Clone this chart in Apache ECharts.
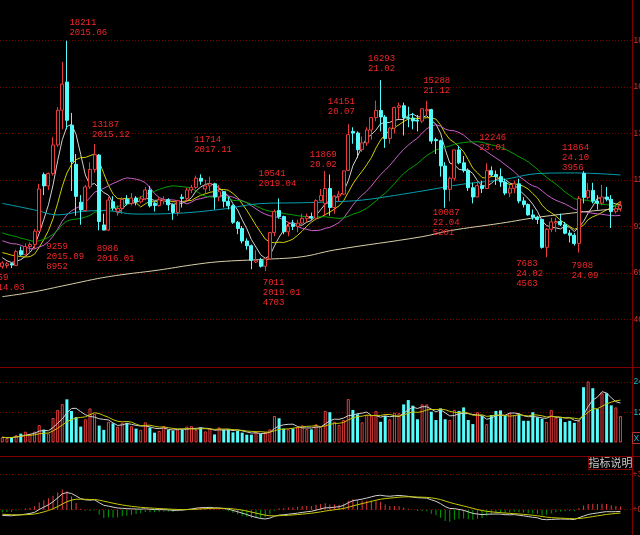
<!DOCTYPE html>
<html><head><meta charset="utf-8">
<script src="https://cdn.jsdelivr.net/npm/echarts@6/dist/echarts.min.js"></script>
<style>html,body{margin:0;padding:0;background:#000;overflow:hidden}#c{width:640px;height:535px}</style>
</head><body><div id="c"></div>
<script>
// ---------- categories ----------
const months = [];
(function(){let y=2014,m=4;while(months.length<137){months.push(y+'.'+String(m).padStart(2,'0'));m++;if(m>12){m=1;y++;}}})();

// ---------- monthly OHLC (2014.04 .. 2025.06) ----------
const open  = [7220,7280,7370,7280,8000,7800,8200,8300,8950,11700,11150,11750,13140,14830,16200,14100,12200,10360,9950,11100,11950,12650,9250,9000,10380,9900,10050,10490,10300,10560,10370,10520,10950,10300,10200,10420,10480,10230,9860,10600,10540,10950,11080,11520,11000,11150,11250,10610,10870,10400,10180,9380,9080,8470,8240,7450,7530,7240,7600,8880,9950,9660,8920,9300,9180,9340,9570,9660,9580,10430,10300,11020,10100,10650,10750,11900,13800,13720,12910,13240,13870,14470,14820,14500,13450,13960,14960,15050,14470,14440,14350,14300,14800,14860,13400,13350,12120,10980,11520,12900,12270,11900,11060,10610,11160,11020,11890,11700,11600,11340,10800,11030,11250,10420,10240,9740,9630,9520,8160,9040,9350,9420,9260,8850,8750,8350,11750,10590,10930,10410,10310,10610,10500,9900,10040];
const high  = [7480,7450,7420,8050,8200,8350,8400,9050,11250,11800,11800,13520,14980,17170,18211,14700,12700,10700,11200,12300,13187,12700,9800,10600,10650,10200,10600,10700,10800,10650,10650,11100,11150,10400,10600,10650,10550,10300,10450,10750,11050,11200,11650,11714,11450,11600,11300,11200,10900,10600,10250,9450,9200,8600,8300,8020,7650,7650,8900,10000,10541,9700,9400,9500,9500,9800,9800,9850,10500,11000,11869,11700,10700,10900,11900,14151,14000,13800,13550,14000,14500,15300,16293,14600,14000,15000,15200,15200,15000,14700,14600,14900,15288,14900,13500,13400,12300,11600,12900,13100,12600,12000,11300,11400,11400,12246,12100,11900,12000,11500,11200,11400,11500,10600,10300,10000,9700,9550,9100,9600,9600,9800,9400,9000,8850,10650,11864,11300,11300,10700,11200,11100,10700,10200,10400];
const low   = [7120,7150,7150,7250,7750,7750,7950,8100,8900,10700,10950,11650,13050,13900,13900,10900,9700,9259,9900,11000,11800,8986,8990,8950,9950,9700,9800,10200,10200,10200,10300,10450,10100,9900,10150,10250,9950,9500,9700,10100,10400,10800,11000,11200,10800,10900,10000,10400,10100,10000,9300,8800,8350,8050,7100,7400,7180,7011,7550,8700,9550,8800,8700,9000,8900,9300,9400,9500,9550,10400,9700,9700,9800,10400,10700,11900,13200,12500,12800,13100,13400,14300,13800,13000,13200,13700,14400,13600,14000,13900,13800,14200,14600,13200,12700,11600,10087,10400,11400,12200,11800,10900,10300,10600,10800,11000,11600,11200,11100,10700,10600,10800,10300,10100,9700,9500,9300,8100,7683,8900,8900,9200,8800,8400,8250,7908,10300,10500,10300,10000,10200,10400,9100,9800,9900];
const close = [7400,7360,7300,7950,7800,8200,8300,8950,11000,11150,11750,13140,14830,16100,14340,12320,10640,9980,11100,11950,12665,9420,9000,10460,10070,10050,10490,10300,10560,10370,10520,10950,10180,10200,10470,10480,10230,9860,10430,10540,10950,11080,11520,11380,11150,11250,10610,10870,10400,10180,9380,9080,8470,8240,7530,7530,7240,7600,8880,9900,9660,8920,9180,9180,9340,9570,9660,9580,10430,10680,11020,10100,10650,10750,11880,13640,13720,12910,13240,13870,14470,14820,14500,13450,13960,14960,15050,14470,14440,14310,14300,14900,14860,13330,13350,12120,10980,11520,12900,12270,11900,11060,10610,11160,11020,11890,11680,11600,11340,10800,11030,11250,10420,10240,9740,9630,9520,8160,9040,9400,9420,9260,8850,8750,8350,10530,10590,10930,10410,10310,10610,10500,9900,10040,10200];
// closes before the window (2011.11 .. 2014.03), for moving-average warm-up
const priorCloses = [9730,8919,9368,10250,9677,10329,10295,9877,9300,8685,8874,8612,8184,9116,9940,9838,9286,8980,9627,8114,7900,8000,8250,8200,8400,8122,7705,7690,7384];
// monthly volume (display units)
const volume = [2.1,1.7,2.1,2.9,3.5,4.3,3.4,4.3,6.9,5.1,3.6,9.7,12.9,15.2,17.1,12.5,10,6.3,9.2,13.5,11.3,6.7,5,8.2,7.6,6.3,7.8,7.8,6.5,5.5,5,8,5.9,3.9,4.6,6.5,5,4.7,5,5.2,6.3,6.5,5,6,4.4,5.6,3.2,6,5.2,5.2,4,4.7,3.9,3.1,3.1,4.3,3.4,4.2,5.2,10.5,9.6,5.5,5.2,5.5,6,6.8,5.3,5.2,7.2,6.3,12.5,12,8.2,6.9,8.9,17.2,12.9,11.2,8,10.9,10.6,12.5,8.2,10.5,9.2,11.8,11.6,15.1,16.8,14.6,9.2,15.1,15.1,12.2,8.9,13.5,9.2,8.9,12.9,12.5,13.9,8.9,7.3,12,10.6,7.3,10.9,12.5,12.7,10.6,11.6,10.9,11.3,8.6,8.6,12,10,9.3,8.1,12.9,10,9.6,8.1,8.6,7.8,8.6,21.9,24.4,21.5,13.3,19.5,19.5,14.7,13.9,10.5];
// long moving averages (sparse points)
const ma60Months  = ['2014.04','2014.11','2015.04','2015.09','2016.02','2016.09','2017.06','2018.03','2019.01','2019.09','2020.04','2020.10','2021.04','2021.11','2022.08','2023.04','2024.01','2024.08','2025.06'];
const ma60Values  = [10300,9980,9740,9900,9950,9780,9820,10000,10300,10330,10380,10460,10650,10900,11240,11436,11760,11780,11680];
const ma250Months = ['2014.04','2014.11','2015.06','2016.03','2017.02','2017.09','2018.03','2019.01','2019.09','2020.04','2021.11','2022.05','2023.04','2024.01','2025.02','2025.06'];
const ma250Values = [5761,6004,6330,6734,7060,7303,7463,7580,7706,8032,8679,8971,9331,9652,9977,10026];
// price annotations
const annoMonths = ['2015.06','2015.12','2017.11','2019.04','2019.01','2020.02','2020.07','2021.02','2021.12','2023.01','2024.10','2022.04','2024.02','2024.09','2015.09','2016.01','2014.04'];
const annoValues = [18211,13187,11714,10541,7011,11869,14151,16293,15288,12246,11864,10087,7683,7908,9259,8986,6959];
const annoTexts  = ['18211\n2015.06','13187\n2015.12','11714\n2017.11','10541\n2019.04','7011\n2019.01\n4703','11869\n20.02','14151\n20.07','16293\n21.02','15288\n21.12','12246\n23.01','11864\n24.10\n3956','10087\n22.04\n5201','7683\n24.02\n4563','7908\n24.09','9259\n2015.09\n8952','8986\n2016.01','6959\n2014.03'];
// axis tick labels
const priceTickLabels = ['4662','6923','9210','11446','13707','16010','18230'];
const volTickLabels   = ['0','12','24'];
const macdTickLabels  = ['','+0','+3115'];

// ---------- derived indicators ----------
const allC = priorCloses.concat(close);
const P = priorCloses.length;
function ma(n){return close.map((_,i)=>{const j=i+P;let s=0;for(let k=j-n+1;k<=j;k++)s+=allC[k];return +(s/n).toFixed(1);});}
function maPartial(arr,n){return arr.map((_,i)=>{let s=0,c=0;for(let k=Math.max(0,i-n+1);k<=i;k++){s+=arr[k];c++;}return +(s/c).toFixed(2);});}
const ma5=ma(5),ma10=ma(10),ma20=ma(20),ma30=ma(30);
let e12=allC[0],e26=allC[0],dea=0;const dif=[],deaArr=[],hist=[];
allC.forEach((c,j)=>{e12=e12+(c-e12)*2/13;e26=e26+(c-e26)*2/27;const d=e12-e26;dea=dea+(d-dea)*0.2;if(j>=P){dif.push(+d.toFixed(1));deaArr.push(+dea.toFixed(1));hist.push(+(2*(d-dea)).toFixed(1));}});
const vma5=maPartial(volume,5),vma10=maPartial(volume,10);

// ---------- chart ----------
const RED='#e83c3c', CYAN='#54fcfc', GRID='#7a0000', TXT='#f02828';
const FONT='Liberation Mono', AXF='Liberation Sans';
const pMin=4662, pMax=18230, pInt=(pMax-pMin)/6;
const annoOffsets=[[3,-23],[-2,-24],[-6,-39],[-20,-29],[-2,7],[-15,-21],[-20,-27],[-12,-26],[-3,-25],[-7,-30],[-21,-28],[-12,0],[-30,2],[-7,9],[-34,17],[-2,14],[-15,1]];

const chart = echarts.init(document.getElementById('c'),null,{renderer:'canvas'});
const lineS=(name,data,color,xi,yi)=>({name,type:'line',data,xAxisIndex:xi,yAxisIndex:yi,showSymbol:false,symbol:'none',smooth:false,lineStyle:{color,width:1},itemStyle:{color},silent:true,z:3});
const sparse=(ms,vs)=>ms.map((m,i)=>[m,vs[i]]);
const gridBase={left:0,width:632,outerBoundsMode:'none',containLabel:false};

chart.setOption({
  backgroundColor:'#000',
  animation:false,
  grid:[
    Object.assign({top:40.3,height:279},gridBase),
    Object.assign({top:381.9,height:60.6},gridBase),
    Object.assign({top:474.3,height:70.8},gridBase)
  ],
  xAxis:[0,1,2].map(g=>({type:'category',gridIndex:g,data:months,boundaryGap:true,show:false})),
  yAxis:[
    {type:'value',gridIndex:0,position:'right',min:pMin,max:pMax,interval:pInt,
     axisLine:{show:false},axisTick:{show:false},
     axisLabel:{margin:1.5,color:'#d03030',fontFamily:AXF,fontSize:8.5,formatter:v=>priceTickLabels[Math.round((v-pMin)/pInt)]},
     splitLine:{show:true,lineStyle:{color:GRID,type:[1,2]}}},
    {type:'value',gridIndex:1,position:'right',min:0,max:24,interval:12,
     axisLine:{show:false},axisTick:{show:false},
     axisLabel:{margin:1.5,color:'#20b8c8',fontFamily:AXF,fontSize:8.5,showMinLabel:false,formatter:v=>volTickLabels[Math.round(v/12)]},
     splitLine:{show:true,showMinLine:false,lineStyle:{color:GRID,type:[1,2]}}},
    {type:'value',gridIndex:2,position:'right',min:-3115,max:3115,interval:3115,
     axisLine:{show:false},axisTick:{show:false},
     axisLabel:{margin:0.5,color:'#d03030',fontFamily:AXF,fontSize:8.5,showMinLabel:false,formatter:v=>macdTickLabels[Math.round(v/3115)+1]},
     splitLine:{show:true,showMinLine:false,lineStyle:{color:GRID,type:[1,2]}}}
  ],
  series:[
    {type:'candlestick',xAxisIndex:0,yAxisIndex:0,barWidth:3.5,
     data:open.map((o,i)=>[o,close[i],low[i],high[i]]),
     itemStyle:{color:'#000',color0:CYAN,borderColor:RED,borderColor0:CYAN,borderWidth:1},
     z:5,
     markPoint:{symbol:'circle',symbolSize:1,itemStyle:{color:'rgba(0,0,0,0)'},silent:true,
       data:annoMonths.map((m,i)=>({coord:[m,annoValues[i]],value:annoValues[i],
         label:{show:true,position:annoOffsets[i],align:'left',verticalAlign:'top',formatter:annoTexts[i],
           color:TXT,fontFamily:FONT,fontSize:9,lineHeight:10}}))}},
    lineS('MA5',ma5,'#d0d0d0',0,0),
    lineS('MA10',ma10,'#d0d000',0,0),
    lineS('MA20',ma20,'#c860c8',0,0),
    lineS('MA30',ma30,'#00a000',0,0),
    Object.assign(lineS('MA60',sparse(ma60Months,ma60Values),'#00a0b0',0,0),{smooth:0.4}),
    Object.assign(lineS('MA250',sparse(ma250Months,ma250Values),'#d8d0a8',0,0),{smooth:0.4}),
    {type:'bar',xAxisIndex:1,yAxisIndex:1,barWidth:3,silent:true,
     data:volume.map((v,i)=>({value:v,itemStyle:close[i]>=open[i]?{color:'#000',borderColor:RED,borderWidth:1}:{color:CYAN,borderColor:CYAN,borderWidth:0}}))},
    lineS('VMA5',vma5,'#d0d0d0',1,1),
    lineS('VMA10',vma10,'#c8c800',1,1),
    {type:'bar',xAxisIndex:2,yAxisIndex:2,barWidth:1,silent:true,
     data:hist.map(v=>({value:v,itemStyle:{color:v>=0?RED:'#00a000'}}))},
    lineS('DIF',dif,'#d0d0d0',2,2),
    lineS('DEA',deaArr,'#c8c800',2,2)
  ],
  graphic:[
    {type:'line',shape:{x1:632.5,y1:0,x2:632.5,y2:535},style:{stroke:'#800000',lineWidth:1},silent:true},
    {type:'line',shape:{x1:0,y1:367.5,x2:640,y2:367.5},style:{stroke:'#800000',lineWidth:1},silent:true},
    {type:'line',shape:{x1:0,y1:456.5,x2:640,y2:456.5},style:{stroke:'#800000',lineWidth:1},silent:true},
    {type:'rect',shape:{x:588.5,y:456.5,width:44,height:13},style:{fill:'#000',stroke:'#800000',lineWidth:1},silent:true},
    {type:'text',x:610.5,y:463,style:{text:'指标说明',fill:'#c8c8c8',font:'11px "Noto Sans CJK SC"',align:'center',verticalAlign:'middle'},silent:true},
    {type:'rect',shape:{x:632.5,y:432.5,width:10,height:11},style:{fill:'#000',stroke:'#c03030',lineWidth:1},silent:true},
    {type:'text',x:633.5,y:438.5,style:{text:'X1',fill:'#20b8c8',font:'8.5px "Liberation Sans"',align:'left',verticalAlign:'middle'},silent:true}
  ]
});
</script></body></html>
